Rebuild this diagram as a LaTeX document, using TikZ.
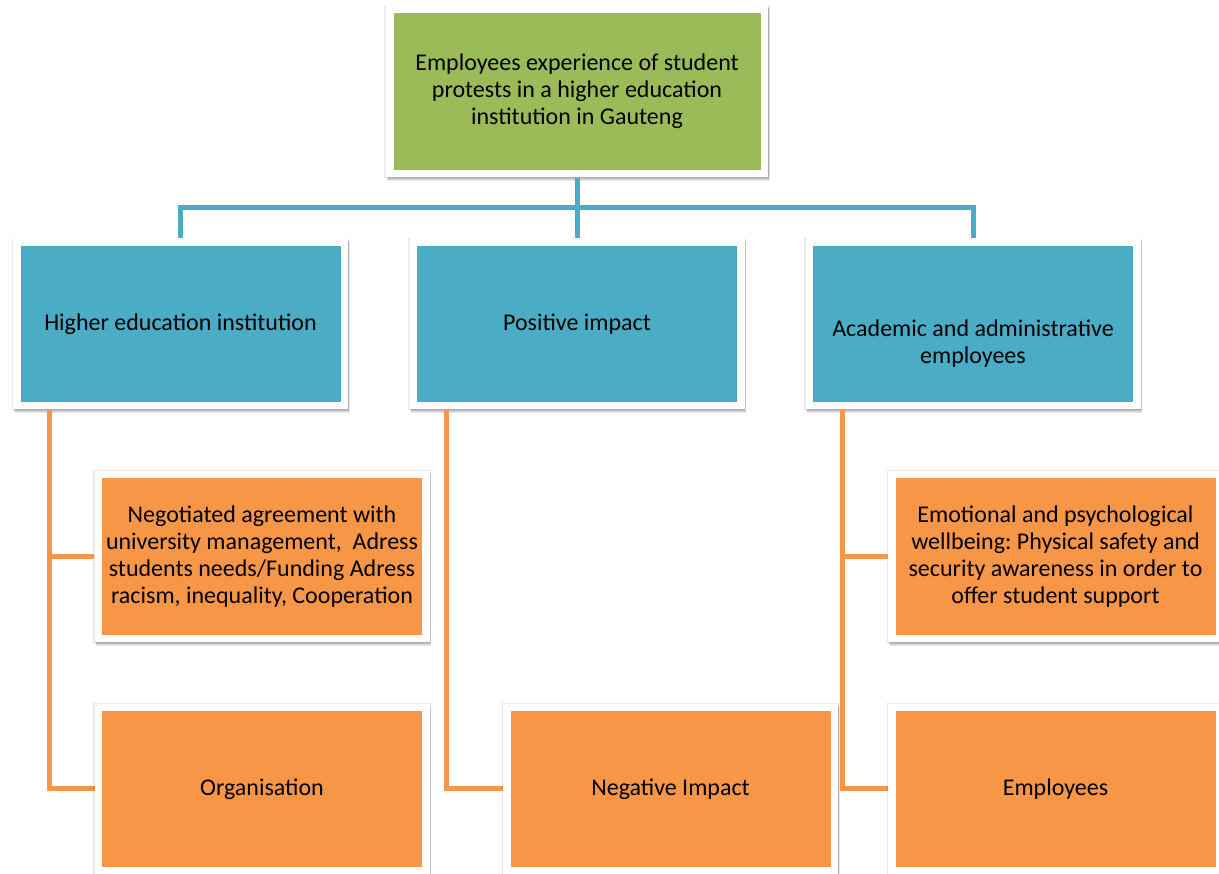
\documentclass[tikz,border=0pt]{standalone}
\usepackage{fontspec}
\setmainfont{Carlito}
\usetikzlibrary{shadows}
\definecolor{cgreen}{HTML}{9BBB59}
\definecolor{cteal}{HTML}{4BACC6}
\definecolor{corange}{HTML}{F79646}
\frenchspacing
\begin{document}
\begin{tikzpicture}[x=1pt,y=-1pt,
  box/.style={fill=white, minimum width=335pt, minimum height=171pt,
    inner sep=0pt, align=center, font=\fontsize{24}{27}\selectfont,
    general shadow={shadow xshift=0pt, shadow yshift=0pt, shadow scale=1.008, opacity=0.08, fill=black},
    general shadow={shadow xshift=0.5pt, shadow yshift=-1.5pt, opacity=0.1, fill=black},
    general shadow={shadow xshift=1pt, shadow yshift=-2.5pt, opacity=0.1, fill=black},
    general shadow={shadow xshift=1.5pt, shadow yshift=-3.5pt, opacity=0.08, fill=black},
    path picture={\fill[#1] ([shift={(7.5pt,7.5pt)}]path picture bounding box.south west)
      rectangle ([shift={(-7.5pt,-7.5pt)}]path picture bounding box.north east);}},
  tline/.style={draw=cteal, line width=5pt},
  oline/.style={draw=corange, line width=5pt}]
\useasboundingbox (0,0) rectangle (1219,874);
\coordinate (bus) at (577,208);
\coordinate (lx) at (49,0);
\coordinate (mx) at (446,0);
\coordinate (rx) at (842,0);
% top
\node[box=cgreen, minimum width=382pt, minimum height=172pt] (top) at (577,91.5)
  {Employees experience of student\\protests in a higher education\\institution in Gauteng};
% blue level
\node[box=cteal] (bl) at (180.5,324) {Higher education institution};
\node[box=cteal] (bm) at (577,324) {Positive impact};
\node[box=cteal] (br) at (973,324) {\raisebox{-69pt}{\parbox{330pt}{\centering Academic and administrative\\employees}}};
% teal lines
\draw[tline] (top.south) -- (bm.north);
\draw[tline] (bl.north) -- (bl.north |- bus) -- (br.north |- bus) -- (br.north);
% orange lines
\draw[oline] (bl.south -| lx) -- (lx |- 0,788) -- (102,788);
\draw[oline] (bm.south -| mx) -- (mx |- 0,788) -- (511,788);
\draw[oline] (br.south -| rx) -- (rx |- 0,788) -- (896,788);
% orange level
\node[box=corange] (o1) at (262,556.5)
  {Negotiated agreement with\\university management,~ Adress\\students needs/Funding Adress\\racism, inequality, Cooperation};
\node[box=corange] (o2) at (262,789) {Organisation};
\node[box=corange] (o3) at (670.5,789) {Negative Impact};
\node[box=corange] (o4) at (1055.5,556.5)
  {Emotional and psychological\\wellbeing: Physical safety and\\security awareness in order to\\offer student support};
\node[box=corange] (o5) at (1055.5,789) {Employees};
\draw[oline] (o1.west) -- (o1.west -| lx);
\draw[oline] (o4.west) -- (o4.west -| rx);
\end{tikzpicture}
\end{document}
